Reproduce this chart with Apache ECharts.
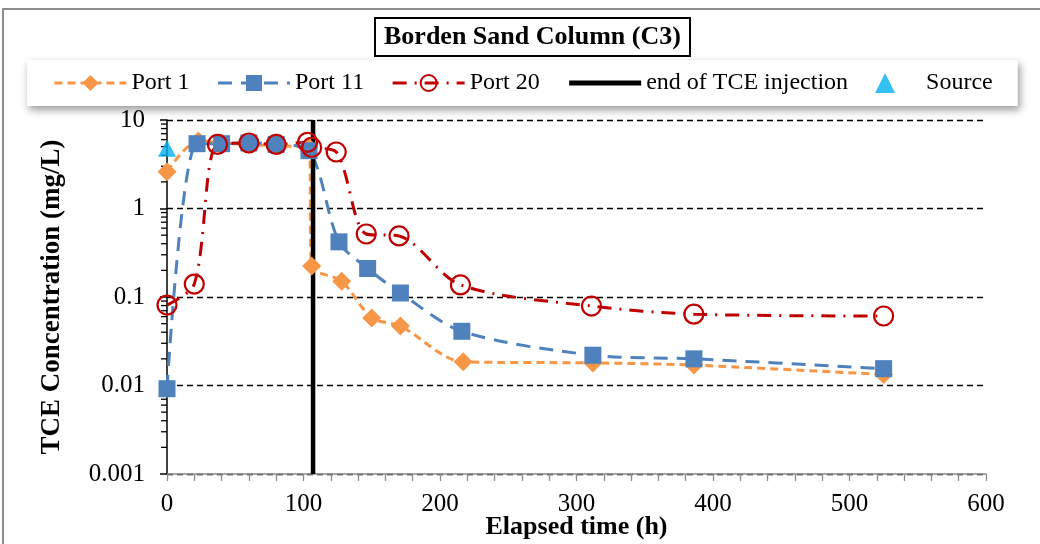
<!DOCTYPE html>
<html>
<head>
<meta charset="utf-8">
<script src="https://cdn.jsdelivr.net/npm/echarts@6/dist/echarts.min.js"></script>
<style>html,body{margin:0;padding:0;background:#fff}#c{width:1040px;height:544px}</style>
</head>
<body>
<div id="c"></div>
<script>
// ---- data ----
const port1 = [[0,2.6],[23,5.8],[40,5.5],[60,5.3],[82,5.1],[104,4.9],[106,0.224],[128,0.151],[150,0.058],[171,0.047],[217,0.0185],[312,0.018],[386,0.017],[525,0.0133]];
const port11 = [[0,0.0092],[22,5.4],[40,5.4],[60,5.5],[80,5.3],[104,4.5],[126,0.42],[147,0.21],[171,0.111],[216,0.041],[312,0.022],[386,0.020],[525,0.0155]];
const port20 = [[0,0.081],[20,0.14],[37,5.3],[60,5.5],[80,5.3],[103,5.6],[106,4.9],[124,4.35],[146,0.515],[170,0.49],[215,0.137],[311,0.079],[386,0.064],[525,0.061]];
const injectionEnd = [[107,0.001],[107,10]];
const source = [[0,4.8]];
const yMinorTicks = [0.002,0.003,0.004,0.005,0.006,0.007,0.008,0.009,0.02,0.03,0.04,0.05,0.06,0.07,0.08,0.09,0.2,0.3,0.4,0.5,0.6,0.7,0.8,0.9,2,3,4,5,6,7,8,9];
const seriesNames = ['Port 1','Port 11','Port 20','end of TCE injection','Source'];
const titleText = 'Borden Sand Column (C3)';
const xName = 'Elapsed time (h)';
const yName = 'TCE Concentration (mg/L)';

const FONT = 'Liberation Serif, Times New Roman, serif';
const TRIANGLE_ICON = 'path://M0,16 L8,0 L16,16 Z';
const chart = echarts.init(document.getElementById('c'), null, {renderer:'canvas'});
chart.setOption({
  animation:false,
  backgroundColor:'#fff',
  graphic:[{type:'rect', shape:{x:3,y:9,width:1100,height:600}, style:{fill:'none', stroke:'#8c8c8c', lineWidth:2}, z:-10}],
  title:{
    text:titleText, left:375, top:18,
    padding:[6,9,6,9], borderColor:'#000', borderWidth:2,
    textStyle:{fontFamily:FONT, fontSize:26, fontWeight:'bold', color:'#000', lineHeight:26}
  },
  legend:{
    data:[
      {name:seriesNames[0]},
      {name:seriesNames[1]},
      {name:seriesNames[2]},
      {name:seriesNames[3], lineStyle:{width:5}},
      {name:seriesNames[4], icon:TRIANGLE_ICON}
    ],
    left:27, top:60,
    padding:[11,25,11,26], itemGap:27, itemWidth:72, itemHeight:20,
    lineStyle:{width:3},
    backgroundColor:'#fff',
    shadowBlur:8, shadowOffsetX:2, shadowOffsetY:4, shadowColor:'rgba(0,0,0,0.4)',
    textStyle:{fontFamily:FONT, fontSize:24, color:'#000'}
  },
  grid:{left:167, right:54, top:120, bottom:70, containLabel:false, outerBoundsMode:'none'},
  xAxis:{
    type:'value', min:0, max:600, interval:100,
    name:xName, nameLocation:'middle', nameGap:40, nameMoveOverlap:false,
    nameTextStyle:{fontFamily:FONT, fontSize:26, fontWeight:'bold', color:'#000'},
    axisLine:{onZero:false, lineStyle:{color:'#8c8c8c', width:1.5}},
    axisTick:{show:true, length:7, lineStyle:{color:'#8c8c8c', width:1.3}},
    minorTick:{show:true, splitNumber:5, length:7, lineStyle:{color:'#8c8c8c', width:1.3}},
    axisLabel:{fontFamily:FONT, fontSize:25, color:'#000', margin:18},
    splitLine:{show:false}
  },
  yAxis:{
    type:'log', logBase:10, min:0.001, max:10,
    name:yName, nameLocation:'middle', nameGap:101, nameMoveOverlap:false,
    nameTextStyle:{fontFamily:FONT, fontSize:27, fontWeight:'bold', color:'#000'},
    axisLine:{show:true, lineStyle:{color:'#000', width:1.5}},
    axisTick:{show:true, length:7, lineStyle:{color:'#000', width:1.5}},
    axisLabel:{fontFamily:FONT, fontSize:25, color:'#000', margin:22,
      formatter:function(v){return String(+v.toPrecision(6));}},
    splitLine:{show:true, lineStyle:{color:'#000', width:1.3, type:[6,4]}}
  },
  series:[
    {name:'Port 1', type:'line', data:port1, smooth:0.3,
      symbol:'diamond', symbolSize:19,
      itemStyle:{color:'#F79646'},
      lineStyle:{color:'#F79646', width:3, type:[8,5]}},
    {name:'Port 11', type:'line', data:port11, smooth:0.3,
      symbol:'rect', symbolSize:17,
      itemStyle:{color:'#4F81BD'},
      lineStyle:{color:'#4F81BD', width:3, type:[14,9]}},
    {name:'Port 20', type:'line', data:port20, smooth:0.3,
      symbol:'circle', symbolSize:19,
      itemStyle:{color:'rgba(255,255,255,0)', borderColor:'#C00000', borderWidth:2.2},
      lineStyle:{color:'#C00000', width:3, type:[14,8,2,8]}},
    {name:'end of TCE injection', type:'line', data:injectionEnd,
      symbol:'line', showSymbol:false, itemStyle:{color:'#000'},
      lineStyle:{color:'#000', width:4.5}},
    {name:'Source', type:'scatter', data:source,
      symbol:'triangle', symbolSize:[18,17],
      itemStyle:{color:'#00B0F0'}},
    {name:'minor', type:'custom', data:yMinorTicks.map(v=>[0,v]), silent:true, clip:false,
      renderItem:function(params, api){
        const p = api.coord([0, api.value(1)]);
        return {type:'line', shape:{x1:p[0]-6, y1:p[1], x2:p[0], y2:p[1]},
          style:{stroke:'#000', lineWidth:1.3}};
      }}
  ]
});
</script>
</body>
</html>
